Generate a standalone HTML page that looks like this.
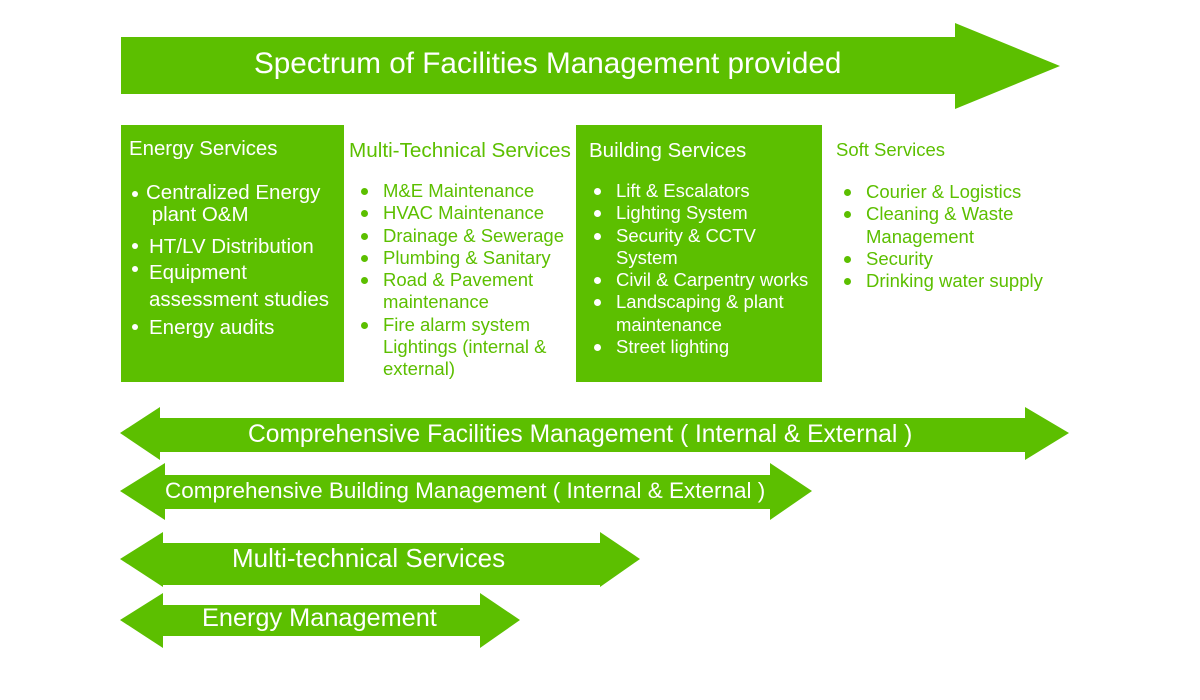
<!DOCTYPE html>
<html><head><style>
body{margin:0;width:1200px;height:700px;background:#fff;position:relative;overflow:hidden;font-family:"Liberation Sans",sans-serif}
.a{position:absolute;white-space:nowrap}
.w{color:#fff}.g{color:#5cbf00}
ul{margin:0;padding:0;list-style:none}
li{position:relative;padding-left:0}
li:before{content:"";position:absolute;width:7px;height:7px;border-radius:50%;background:currentColor;left:-22px;top:8px}
</style></head><body>
<svg width="1200" height="700" style="position:absolute;left:0;top:0">
<g fill="#5cbf00">
<polygon points="121,37 955,37 955,23 1060,66 955,109 955,94 121,94"/>
<rect x="121" y="125" width="223" height="257"/>
<rect x="576" y="125" width="246" height="257"/>
<polygon points="120,433 160,407 160,418 1025,418 1025,407 1069,433 1025,460 1025,452 160,452 160,460"/>
<polygon points="120,491 165,463 165,475 770,475 770,463 812,491 770,520 770,509 165,509 165,520"/>
<polygon points="120,559 163,532 163,543 600,543 600,532 640,559 600,587 600,585 163,585 163,587"/>
<polygon points="120,620 163,593 163,605 480,605 480,593 520,620 480,648 480,636 163,636 163,648"/>
</g>
</svg>
<div class="a w" style="left:254px;top:47px;font-size:29.7px">Spectrum of Facilities Management provided</div>
<div class="a w" style="left:129px;top:138px;font-size:20.4px">Energy Services</div>
<div class="a w" style="left:146px;top:182px;font-size:20.5px;line-height:22px">Centralized Energy<br>&nbsp;plant O&amp;M</div>
<div class="a w" style="left:149px;top:235px;font-size:20.5px">HT/LV Distribution</div>
<div class="a w" style="left:149px;top:259px;font-size:20.5px;line-height:27px">Equipment<br>assessment studies</div>
<div class="a w" style="left:149px;top:316px;font-size:20.5px">Energy audits</div>
<div style="position:absolute;left:132px;top:191px;width:6px;height:6px;border-radius:50%;background:#fff"></div>
<div style="position:absolute;left:132px;top:243px;width:6px;height:6px;border-radius:50%;background:#fff"></div>
<div style="position:absolute;left:132px;top:266px;width:6px;height:6px;border-radius:50%;background:#fff"></div>
<div style="position:absolute;left:132px;top:324px;width:6px;height:6px;border-radius:50%;background:#fff"></div>
<div class="a g" style="left:349px;top:139px;font-size:20.7px">Multi-Technical Services</div>
<ul class="a g" style="left:383px;top:180px;font-size:18.5px;line-height:22.3px">
<li>M&amp;E Maintenance</li><li>HVAC Maintenance</li><li>Drainage &amp; Sewerage</li><li>Plumbing &amp; Sanitary</li><li>Road &amp; Pavement<br>maintenance</li><li>Fire alarm system<br>Lightings (internal &amp;<br>external)</li></ul>
<div class="a w" style="left:589px;top:139px;font-size:20.5px">Building Services</div>
<ul class="a w" style="left:616px;top:180px;font-size:18.5px;line-height:22.3px">
<li>Lift &amp; Escalators</li><li>Lighting System</li><li>Security &amp; CCTV<br>System</li><li>Civil &amp; Carpentry works</li><li>Landscaping &amp; plant<br>maintenance</li><li>Street lighting</li></ul>
<div class="a g" style="left:836px;top:139px;font-size:18.5px">Soft Services</div>
<ul class="a g" style="left:866px;top:181px;font-size:18.5px;line-height:22.3px">
<li>Courier &amp; Logistics</li><li>Cleaning &amp; Waste<br>Management</li><li>Security</li><li>Drinking water supply</li></ul>
<div class="a w" style="left:248px;top:421px;font-size:24.6px">Comprehensive Facilities Management ( Internal &amp; External )</div>
<div class="a w" style="left:165px;top:478px;font-size:22.5px">Comprehensive Building Management ( Internal &amp; External )</div>
<div class="a w" style="left:232px;top:543px;font-size:26px">Multi-technical Services</div>
<div class="a w" style="left:202px;top:604px;font-size:25.3px">Energy Management</div>
</body></html>
